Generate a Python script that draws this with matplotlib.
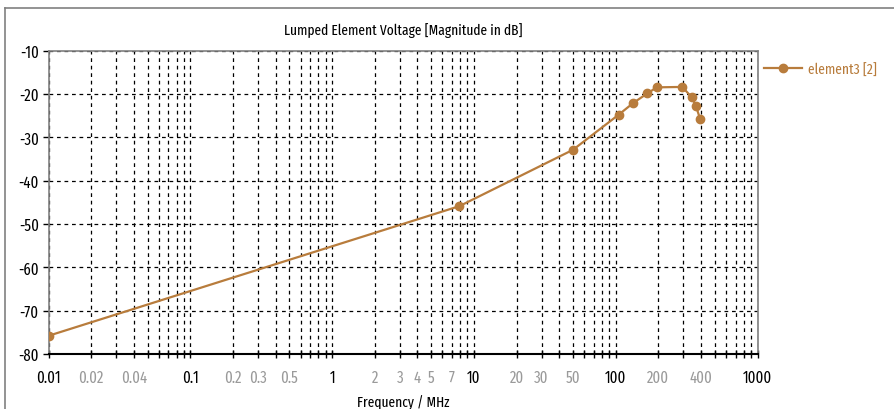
import matplotlib
matplotlib.use("Agg")
import matplotlib.pyplot as plt
from matplotlib.lines import Line2D

plt.rcParams['font.family'] = ['Fira Sans Extra Condensed', 'DejaVu Sans']

# Data (frequency in MHz, magnitude in dB)
freq_mhz = [0.01, 7.9, 50, 105, 133, 167, 195, 295, 344, 367, 394]
mag_db = [-75.8, -45.9, -32.9, -24.8, -22.1, -19.9, -18.5, -18.4, -20.8, -22.7, -25.8]

series_label = "element3 [2]"
title = "Lumped Element Voltage [Magnitude in dB]"
xlabel = "Frequency / MHz"

decade_labels = [0.01, 0.1, 1, 10, 100, 1000]
minor_labels = [0.02, 0.04, 0.2, 0.3, 0.5, 2, 3, 4, 5, 7, 20, 30, 50, 200, 400]
y_ticks = [-10, -20, -30, -40, -50, -60, -70, -80]

line_color = "#b87c3c"
fs_tick = 11.5
fs_text = 10.5

fig = plt.figure(figsize=(8.94, 4.10), dpi=100)
ax = fig.add_axes([48.5 / 894, 1 - 355 / 410, (757.5 - 48.5) / 894, (355 - 51.5) / 410])

ax.plot(freq_mhz, mag_db, color=line_color, lw=1.6, marker='o', ms=6,
        mec=line_color, mfc=line_color, label=series_label, zorder=3)

ax.set_xscale('log')
ax.set_xlim(0.01, 1000)
ax.set_ylim(-80, -10)

# tick positions at 1..9 of each decade
all_pos = []
for d in [0.01, 0.1, 1, 10, 100]:
    for m in range(1, 10):
        all_pos.append(round(d * m, 6))
all_pos.append(1000)

def is_in(p, lst):
    return any(abs(p - v) < 1e-9 for v in lst)

labels = [f"{p:g}" if (is_in(p, decade_labels) or is_in(p, minor_labels)) else "" for p in all_pos]
ax.xaxis.set_minor_locator(matplotlib.ticker.NullLocator())
ax.set_xticks(all_pos)
ax.set_xticklabels(labels, fontsize=fs_tick)
ax.tick_params(axis='x', direction='inout', length=6, width=1, pad=8, colors='black')
for lab, p in zip(ax.get_xticklabels(), all_pos):
    lab.set_color('black' if is_in(p, decade_labels) else '#9a9a9a')

ax.set_yticks(y_ticks)
ax.set_yticklabels([str(v) for v in y_ticks], fontsize=fs_tick)
ax.tick_params(axis='y', direction='out', length=4, width=1, pad=3, colors='black')

ax.grid(True, which='major', color='black', linestyle=(0, (3, 3)), linewidth=0.9)

for s in ['top', 'right', 'left']:
    ax.spines[s].set_color('#808080')
    ax.spines[s].set_linewidth(1.2)
ax.spines['bottom'].set_color('black')
ax.spines['bottom'].set_linewidth(1.5)

ax.set_title(title, fontsize=fs_text, pad=12)
ax.set_xlabel(xlabel, fontsize=fs_text, labelpad=7)

leg = ax.legend(loc='upper left', bbox_to_anchor=(0.995, 0.995), frameon=False,
                fontsize=fs_text, handlelength=2.6, borderaxespad=0.3, handletextpad=0.4)
for t in leg.get_texts():
    t.set_color(line_color)

# outer frame lines
fig.add_artist(Line2D([5 / 894, 1], [1 - 9 / 410, 1 - 9 / 410], color='#808080', lw=1.2,
                      transform=fig.transFigure))
fig.add_artist(Line2D([5 / 894, 5 / 894], [0, 1 - 9 / 410], color='#808080', lw=1.2,
                      transform=fig.transFigure))

fig.savefig("out.png", dpi=100)
